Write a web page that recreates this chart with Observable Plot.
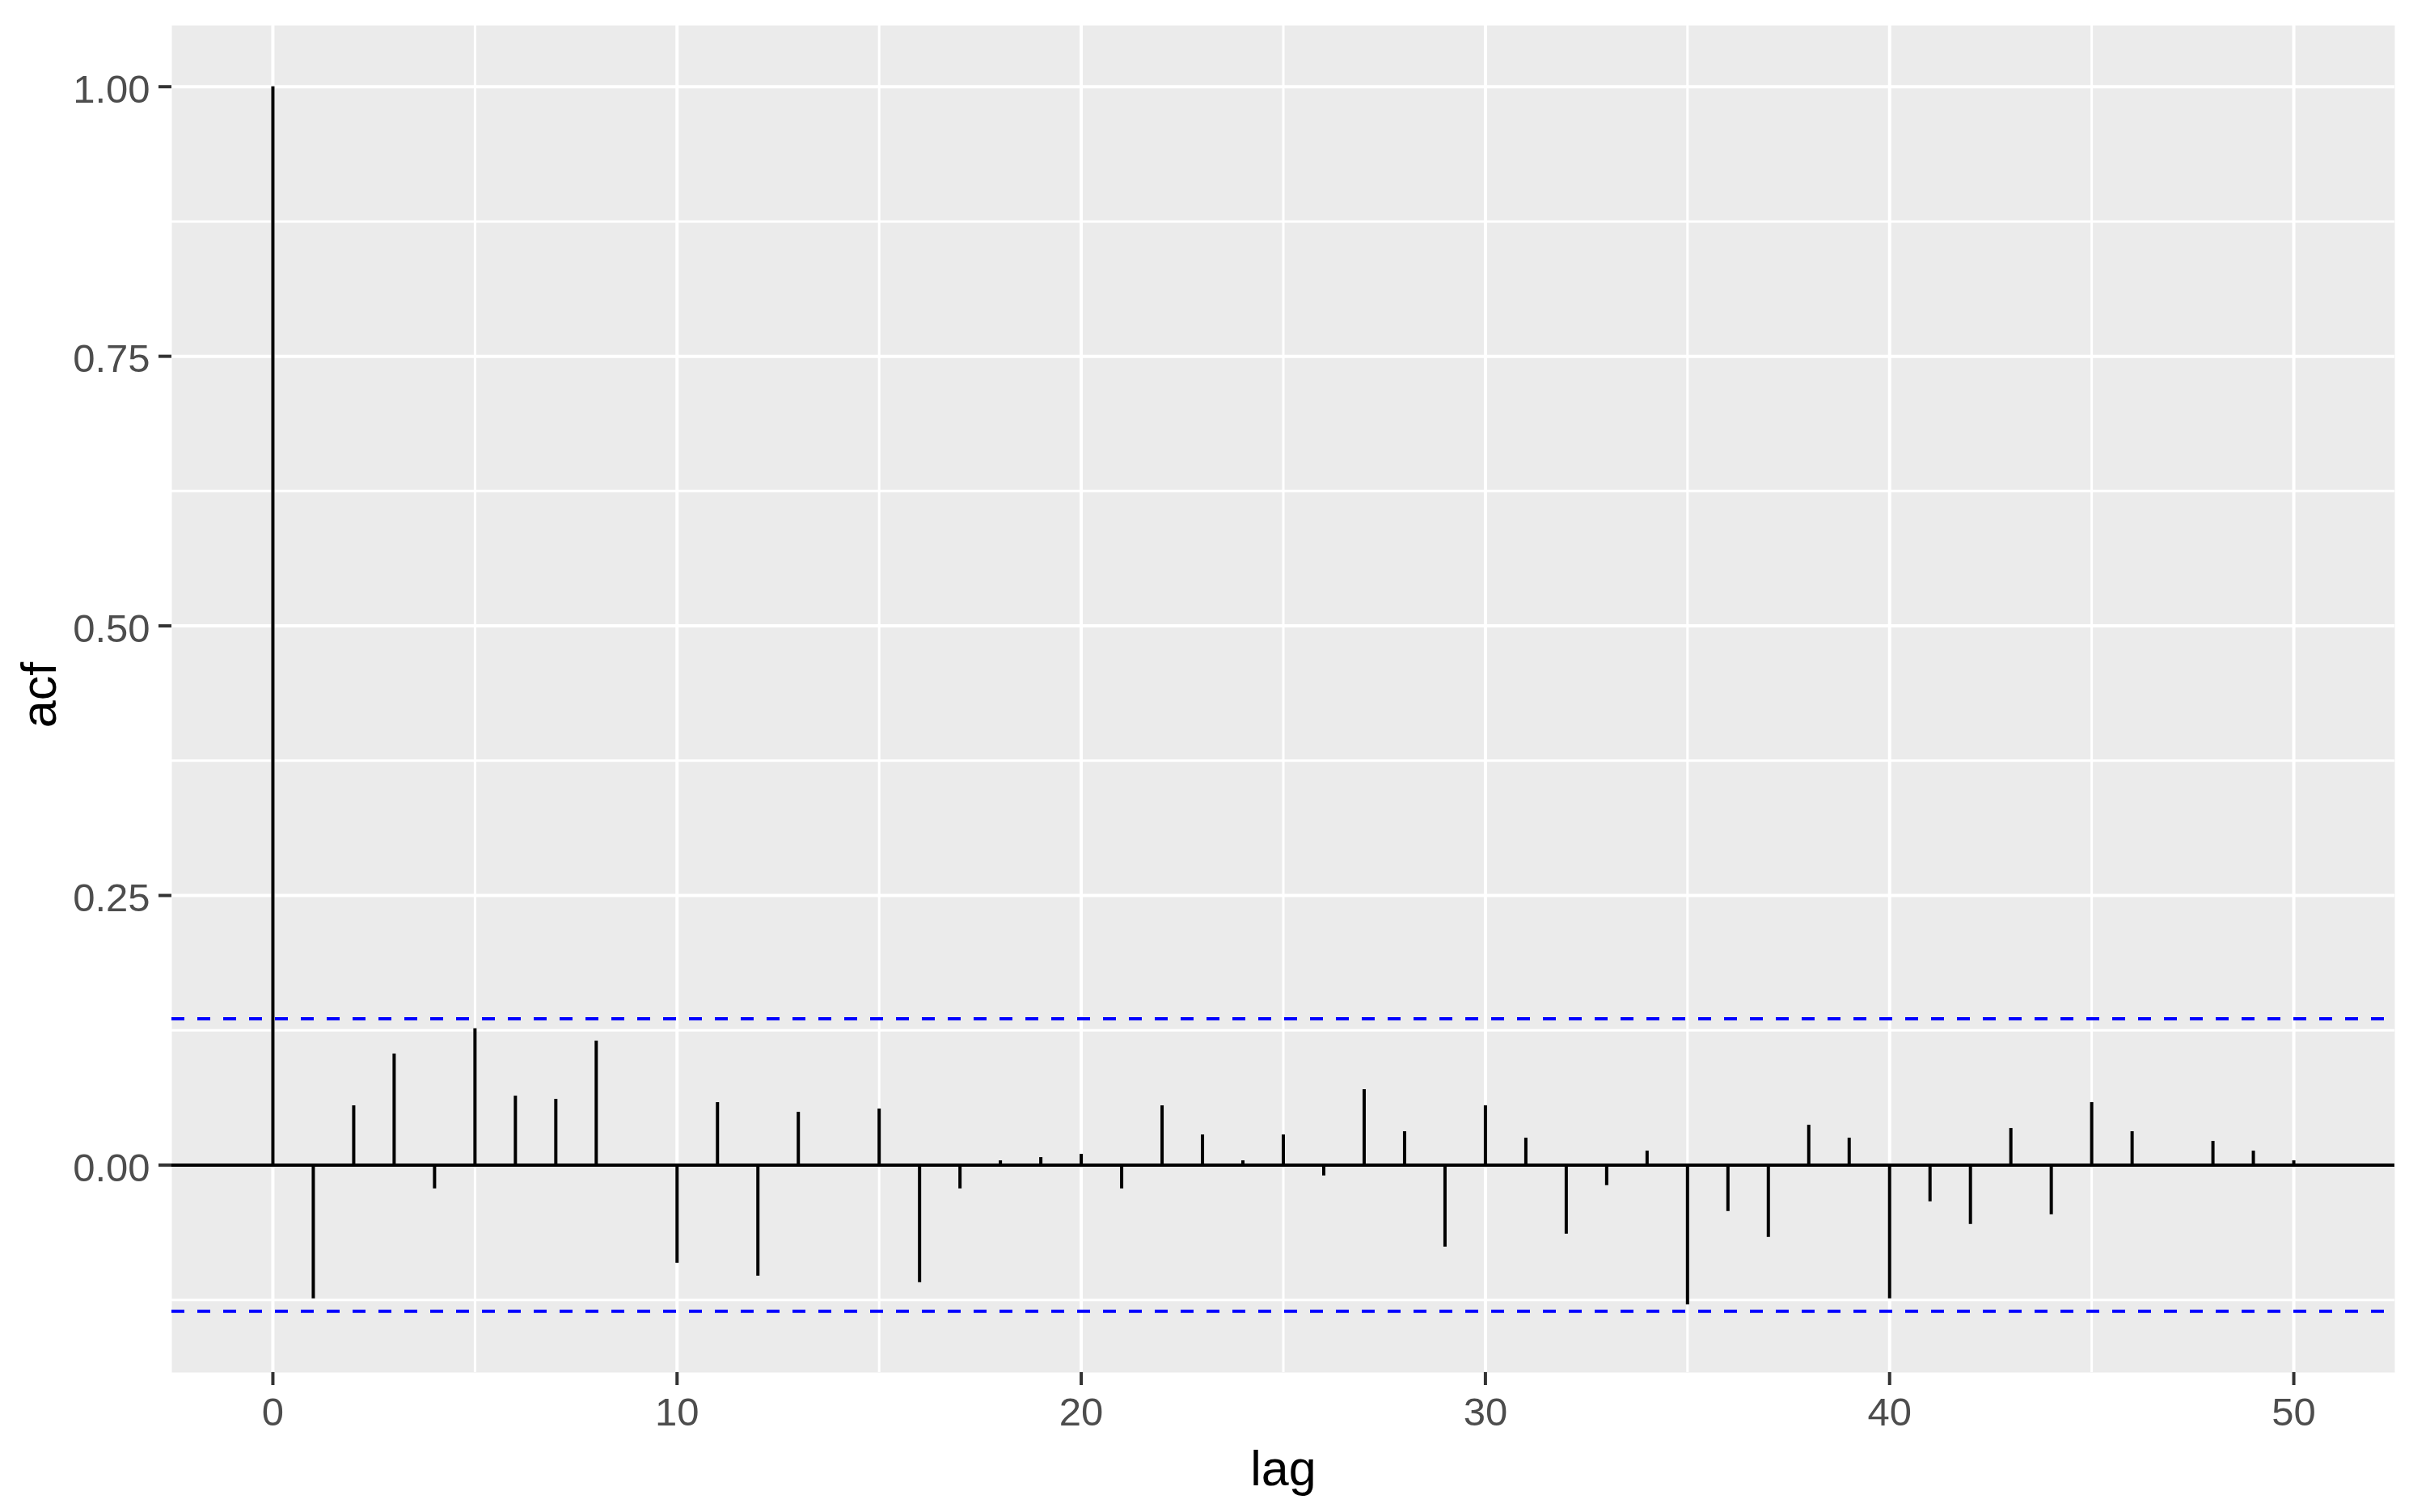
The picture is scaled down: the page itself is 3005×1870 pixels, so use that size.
<!DOCTYPE html>
<html>
<head>
<meta charset="utf-8">
<script src="https://cdn.jsdelivr.net/npm/d3@7"></script>
<script src="https://cdn.jsdelivr.net/npm/@observablehq/plot@0.6"></script>
<style>
  html, body { margin: 0; padding: 0; background: #ffffff; }
  #chart svg { display: block; }
</style>
</head>
<body>
<div id="chart"></div>
<script>
// ---- data ----
const lags = [0,1,2,3,4,5,6,7,8,9,10,11,12,13,14,15,16,17,18,19,20,21,22,23,24,25,26,27,28,29,30,31,32,33,34,35,36,37,38,39,40,41,42,43,44,45,46,47,48,49,50];
const acfValues = [1.000,-0.124,0.055,0.103,-0.022,0.1265,0.064,0.061,0.115,0.001,
                   -0.091,0.058,-0.103,0.049,0.001,0.052,-0.109,-0.022,0.004,0.007,
                   0.010,-0.022,0.055,0.028,0.004,0.028,-0.010,0.070,0.031,-0.076,
                   0.055,0.025,-0.064,-0.019,0.013,-0.1295,-0.043,-0.067,0.037,0.025,
                   -0.124,-0.034,-0.055,0.034,-0.046,0.058,0.031,0.001,0.022,0.013,
                   0.004];
const ciBound = 0.1356;
const xTicks = [0,10,20,30,40,50];
const xMinorTicks = [5,15,25,35,45];
const yTicks = [0,0.25,0.5,0.75,1];
const yTickLabels = ["0.00","0.25","0.50","0.75","1.00"];
const yMinorTicks = [-0.125,0.125,0.375,0.625,0.875];
const xTitle = "lag";
const yTitle = "acf";

const rows = lags.map((lag, i) => ({lag, acf: acfValues[i]}));
const yLow = -ciBound, yHigh = 1;
const pad = 0.05 * (yHigh - yLow);

const chart = Plot.plot({
  width: 3005,
  height: 1870,
  marginLeft: 212,
  marginRight: 44,
  marginTop: 31,
  marginBottom: 173,
  style: {fontFamily: "'Liberation Sans', Arial, sans-serif", background: "#ffffff", color: "black"},
  x: {domain: [-2.5, 52.5], axis: null},
  y: {domain: [yLow - pad, yHigh + pad], axis: null},
  marks: [
    Plot.frame({fill: "#EBEBEB", stroke: "none"}),
    Plot.gridY(yMinorTicks, {stroke: "#ffffff", strokeOpacity: 1, strokeWidth: 3}),
    Plot.gridX(xMinorTicks, {stroke: "#ffffff", strokeOpacity: 1, strokeWidth: 3}),
    Plot.gridY(yTicks, {stroke: "#ffffff", strokeOpacity: 1, strokeWidth: 4}),
    Plot.gridX(xTicks, {stroke: "#ffffff", strokeOpacity: 1, strokeWidth: 4}),
    Plot.ruleY([0], {stroke: "black", strokeWidth: 4}),
    Plot.ruleX(rows, {x: "lag", y1: 0, y2: "acf", stroke: "black", strokeWidth: 4}),
    Plot.ruleY([ciBound, -ciBound], {stroke: "#0000FF", strokeWidth: 4, strokeDasharray: "16,16"}),
    Plot.axisX(xTicks, {tickSize: 16, tickPadding: 15, fontSize: 49, fill: "#4D4D4D", stroke: "#333333", strokeWidth: 4, label: null}),
    Plot.axisY(yTicks, {tickSize: 16, fill: "none", stroke: "#333333", strokeWidth: 4, label: null}),
    Plot.axisY(yTicks, {tickSize: 0, tickPadding: 27, fontSize: 49, fill: "#4D4D4D", dy: 4, label: null,
      tickFormat: d => yTickLabels[yTicks.indexOf(d)]}),
    Plot.text([xTitle], {text: d => d, frameAnchor: "bottom", dy: 139, lineAnchor: "bottom", textAnchor: "middle", fontSize: 61, fill: "black"}),
    Plot.text([yTitle], {text: d => d, frameAnchor: "left", dx: -144, dy: -5, rotate: -90, lineAnchor: "bottom", textAnchor: "middle", fontSize: 61, fill: "black"})
  ]
});
document.getElementById("chart").appendChild(chart);
</script>
</body>
</html>
